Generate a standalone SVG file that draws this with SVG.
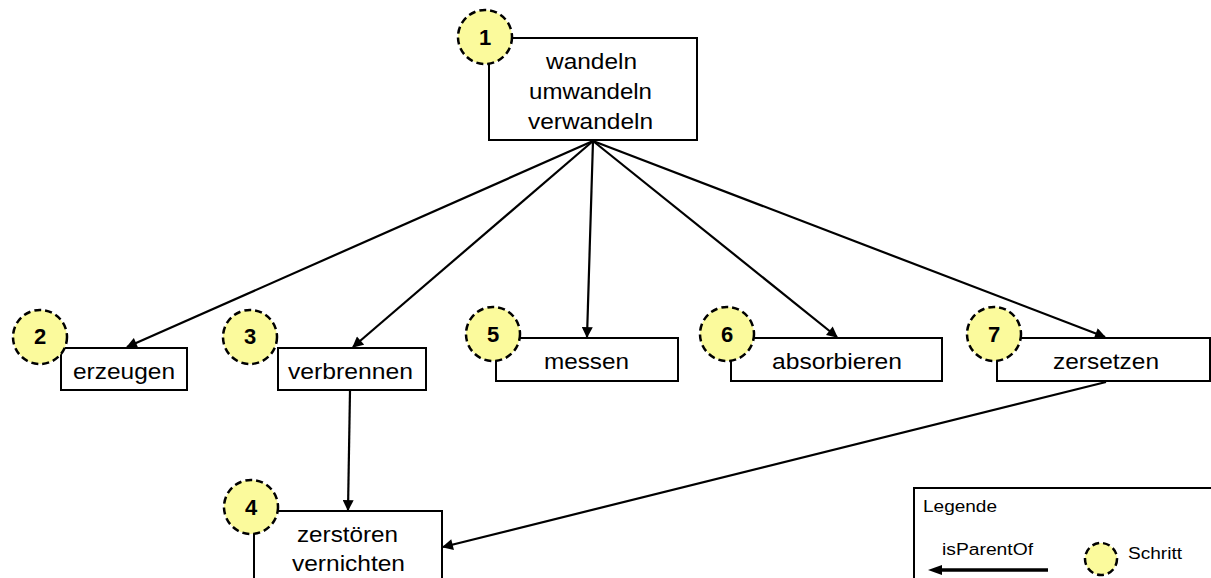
<svg xmlns="http://www.w3.org/2000/svg" width="1211" height="578" viewBox="0 0 1211 578">
<style>
.box{fill:#fff;stroke:#000;stroke-width:2}
.step{fill:#fbfa9c;stroke:#000;stroke-width:2.5;stroke-dasharray:7 4}
.num{font-family:"Liberation Sans",Arial,sans-serif;font-weight:bold;font-size:22px;text-anchor:middle}
.lbl{font-family:"Liberation Sans",Arial,sans-serif;font-size:22px}
.leg{font-family:"Liberation Sans",Arial,sans-serif;font-size:16px}
.edge{stroke:#000;stroke-width:2.2;fill:none;marker-end:url(#arr)}
</style>
<defs>
<marker id="arr" viewBox="0 0 10 10" refX="9" refY="5" markerWidth="5.5" markerHeight="5" orient="auto" markerUnits="strokeWidth">
<path d="M0,0 L10,5 L0,10 z" fill="#000"/>
</marker>
</defs>
<rect width="1211" height="578" fill="#fff"/>
<g id="n1">
<rect class="box" x="489" y="38" width="208" height="102"/>
<circle class="step" cx="485" cy="37" r="27"/>
<text class="num" x="485" y="45">1</text>
<text class="lbl" x="546" y="69" textLength="91" lengthAdjust="spacingAndGlyphs">wandeln</text>
<text class="lbl" x="529" y="99" textLength="123" lengthAdjust="spacingAndGlyphs">umwandeln</text>
<text class="lbl" x="528" y="129" textLength="125" lengthAdjust="spacingAndGlyphs">verwandeln</text>
</g>
<g id="n2">
<rect class="box" x="61" y="348" width="126" height="42"/>
<circle class="step" cx="40" cy="337" r="27"/>
<text class="num" x="40" y="344">2</text>
<text class="lbl" x="73" y="379" textLength="102" lengthAdjust="spacingAndGlyphs">erzeugen</text>
</g>
<g id="n3">
<rect class="box" x="278" y="348" width="148" height="42"/>
<circle class="step" cx="250" cy="337" r="27"/>
<text class="num" x="250" y="344">3</text>
<text class="lbl" x="288" y="379" textLength="125" lengthAdjust="spacingAndGlyphs">verbrennen</text>
</g>
<g id="n5">
<rect class="box" x="496" y="338" width="182" height="43"/>
<circle class="step" cx="493" cy="334" r="27"/>
<text class="num" x="493" y="342">5</text>
<text class="lbl" x="544" y="369" textLength="85" lengthAdjust="spacingAndGlyphs">messen</text>
</g>
<g id="n6">
<rect class="box" x="731" y="338" width="211" height="43"/>
<circle class="step" cx="727" cy="334" r="27"/>
<text class="num" x="727" y="342">6</text>
<text class="lbl" x="772" y="369" textLength="130" lengthAdjust="spacingAndGlyphs">absorbieren</text>
</g>
<g id="n7">
<rect class="box" x="997" y="338" width="213" height="43"/>
<circle class="step" cx="994" cy="334" r="27"/>
<text class="num" x="994" y="342">7</text>
<text class="lbl" x="1053" y="369" textLength="106" lengthAdjust="spacingAndGlyphs">zersetzen</text>
</g>
<g id="n4">
<rect class="box" x="254" y="511" width="188" height="80"/>
<circle class="step" cx="251" cy="507" r="27"/>
<text class="num" x="251" y="515">4</text>
<text class="lbl" x="297" y="542" textLength="101" lengthAdjust="spacingAndGlyphs">zerstören</text>
<text class="lbl" x="292" y="571" textLength="113" lengthAdjust="spacingAndGlyphs">vernichten</text>
</g>
<g id="connectors">
<line class="edge" x1="593" y1="141" x2="127" y2="347"/>
<line class="edge" x1="593" y1="141" x2="353" y2="347"/>
<line class="edge" x1="593" y1="141" x2="587" y2="337"/>
<line class="edge" x1="593" y1="141" x2="837" y2="337"/>
<line class="edge" x1="593" y1="141" x2="1105" y2="337"/>
<line class="edge" x1="350" y1="391" x2="348" y2="510"/>
<line class="edge" x1="1106" y1="382" x2="443" y2="547"/>
</g>
<g id="legend">
<rect class="box" x="914" y="488" width="310" height="100"/>
<text class="leg" x="923" y="512" textLength="74" lengthAdjust="spacingAndGlyphs">Legende</text>
<text class="leg" x="942" y="555" textLength="91" lengthAdjust="spacingAndGlyphs">isParentOf</text>
<line x1="1048" y1="570" x2="940" y2="570" stroke="#000" stroke-width="3.5"/>
<path d="M928,570 L942,565 L942,575 z" fill="#000"/>
<circle class="step" cx="1101" cy="559" r="16" stroke-width="2.5" stroke-dasharray="6 3"/>
<text class="leg" x="1128" y="559" font-size="17" textLength="54" lengthAdjust="spacingAndGlyphs">Schritt</text>
</g>
</svg>
